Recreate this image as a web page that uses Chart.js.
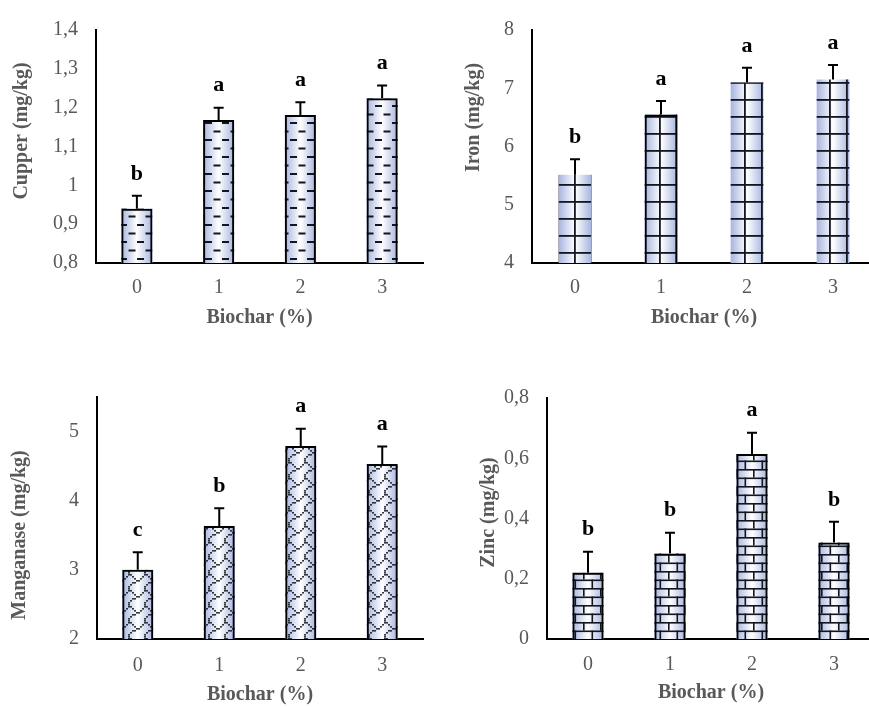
<!DOCTYPE html>
<html>
<head>
<meta charset="utf-8">
<script src="https://cdn.jsdelivr.net/npm/chart.js@4.4.1/dist/chart.umd.min.js"></script>
<style>
  html, body { margin: 0; padding: 0; background: #fff; width: 869px; height: 707px; overflow: hidden; }
  .panel { position: absolute; }
</style>
</head>
<body>
<canvas id="cu" class="panel" width="430" height="345" style="left:0;top:0"></canvas>
<canvas id="fe" class="panel" width="450" height="345" style="left:430px;top:0"></canvas>
<canvas id="mn" class="panel" width="430" height="357" style="left:0;top:350px"></canvas>
<canvas id="zn" class="panel" width="450" height="357" style="left:430px;top:350px"></canvas>
<script>
// Biochar application rates (%)
const doses = ['0', '1', '2', '3'];

// Copper
const copper = [0.94, 1.168, 1.181, 1.224];
const copperErr = [0.033, 0.032, 0.033, 0.033];
const copperGroups = ['b', 'a', 'a', 'a'];
const copperTicks = [0.8, 0.9, 1.0, 1.1, 1.2, 1.3, 1.4];

// Iron
const iron = [5.515, 6.55, 7.10, 7.15];
const ironErr = [0.265, 0.23, 0.25, 0.25];
const ironGroups = ['b', 'a', 'a', 'a'];
const ironTicks = [4, 5, 6, 7, 8];

// Manganese
const manganese = [3.00, 3.635, 4.79, 4.53];
const manganeseErr = [0.255, 0.255, 0.25, 0.255];
const manganeseGroups = ['c', 'b', 'a', 'a'];
const manganeseTicks = [2, 3, 4, 5];

// Zinc
const zinc = [0.220, 0.284, 0.614, 0.320];
const zincErr = [0.070, 0.069, 0.071, 0.069];
const zincGroups = ['b', 'b', 'a', 'b'];
const zincTicks = [0, 0.2, 0.4, 0.6, 0.8];

const SERIF = "'Liberation Serif', 'Times New Roman', serif";
const GREY = '#595959';
const INK = '#14161f';

// ---- fill patterns -------------------------------------------------------
function makeTile(w, h, draw, dx = 0, dy = 0) {
  const c = document.createElement('canvas');
  c.width = w; c.height = h;
  const g = c.getContext('2d');
  g.fillStyle = INK;
  draw(g);
  const pat = document.createElement('canvas').getContext('2d').createPattern(c, 'repeat');
  if (dx || dy) pat.setTransform(new DOMMatrix().translate(dx, dy));
  return pat;
}
const dashPattern = makeTile(17, 17, g => {
  g.fillRect(1, 3, 7, 2);
  g.fillRect(9.5, 11.5, 7, 2);
});
const gridPattern = makeTile(17, 17, g => {
  g.fillRect(0, 0, 17, 1.8);
  g.fillRect(0, 0, 1.8, 17);
}, 8, 14);
const brickPattern = makeTile(17, 17, g => {
  g.fillRect(0, 0, 17, 1.6);
  g.fillRect(0, 8.5, 17, 1.6);
  g.fillRect(0, 0, 1.6, 8.5);
  g.fillRect(8.5, 8.5, 1.6, 8.5);
});
const shingleBits = [0xc0, 0x21, 0x12, 0x0c, 0x30, 0x40, 0x80, 0x80];
const shinglePattern = makeTile(16, 16, g => {
  g.globalAlpha = 0.85;
  shingleBits.forEach((row, r) => {
    for (let b = 0; b < 8; b++) {
      if (row & (0x80 >> b)) g.fillRect(b * 2, r * 2, 2, 1.6);
    }
  });
});

// ---- bars, error bars and group letters ------------------------------------
function decor(p) {
  return {
    id: 'decor-' + p.id,
    beforeDatasetsDraw(chart) {
      const ctx = chart.ctx;
      chart.getDatasetMeta(0).data.forEach((bar, i) => {
        const { x, y, base, width } = bar.getProps(['x', 'y', 'base', 'width'], true);
        const l = x - width / 2;
        const g = ctx.createLinearGradient(l, 0, l + width, 0);
        g.addColorStop(0, '#a6b5df');
        g.addColorStop(0.5, '#ffffff');
        g.addColorStop(1, '#a6b5df');
        ctx.save();
        if (!p.outlined[i]) ctx.filter = 'blur(0.7px)';
        ctx.fillStyle = g;
        ctx.fillRect(l, y, width, base - y);
        ctx.fillStyle = p.pattern;
        ctx.fillRect(l, y, width, base - y);
        ctx.restore();
      });
    },
    afterDatasetsDraw(chart) {
      const ctx = chart.ctx;
      const ys = chart.scales.y;
      ctx.save();
      chart.getDatasetMeta(0).data.forEach((bar, i) => {
        const { x, y } = bar.getProps(['x', 'y'], true);
        const top = ys.getPixelForValue(p.values[i] + p.errors[i]);
        ctx.strokeStyle = '#000';
        ctx.lineWidth = 2;
        ctx.beginPath();
        ctx.moveTo(x, y);
        ctx.lineTo(x, top);
        ctx.moveTo(x - 5, top);
        ctx.lineTo(x + 5, top);
        ctx.stroke();
        ctx.fillStyle = '#000';
        ctx.font = 'bold 22px ' + SERIF;
        ctx.textAlign = 'center';
        ctx.textBaseline = 'middle';
        ctx.fillText(p.groups[i], x, top - 22);
      });
      ctx.restore();
    },
    afterDraw(chart) {
      const ctx = chart.ctx;
      ctx.save();
      ctx.translate(p.title.x, p.title.y);
      ctx.rotate(-Math.PI / 2);
      ctx.font = 'bold 20px ' + SERIF;
      ctx.fillStyle = GREY;
      ctx.textAlign = 'center';
      ctx.textBaseline = 'middle';
      ctx.fillText(p.title.text, 0, 0);
      ctx.restore();
    }
  };
}

const fmt = v => String(+Number(v).toFixed(2)).replace('.', ',');

function makeChart(p) {
  new Chart(document.getElementById(p.id), {
    type: 'bar',
    data: {
      labels: doses,
      datasets: [{
        data: p.values,
        base: p.min,
        backgroundColor: 'rgba(0,0,0,0)',
        borderColor: '#000',
        borderWidth: c => (p.outlined[c.dataIndex] ? 2 : 0),
        categoryPercentage: 1,
        barPercentage: 0.38
      }]
    },
    options: {
      responsive: false,
      animation: false,
      events: [],
      layout: { padding: { top: p.padTop, right: p.padRight, left: 0, bottom: 0 } },
      plugins: { legend: { display: false }, tooltip: { enabled: false } },
      scales: {
        x: {
          grid: { display: false, drawTicks: false },
          border: { display: true, color: '#000', width: 2 },
          ticks: { color: GREY, font: { family: SERIF, size: 20 }, padding: p.xTickPad },
          title: {
            display: true, text: 'Biochar (%)', color: GREY,
            font: { family: SERIF, size: 20, weight: 'bold' },
            padding: { top: 0, bottom: p.xTitlePad }
          },
          afterFit: s => { s.height = p.xHeight; }
        },
        y: {
          min: p.min, max: p.max, bounds: 'data',
          grid: { display: false, drawTicks: false },
          border: { display: true, color: '#000', width: 2 },
          ticks: { color: GREY, font: { family: SERIF, size: 20 }, padding: 18, callback: v => fmt(v) },
          afterBuildTicks: s => { s.ticks = p.ticks.map(v => ({ value: v })); },
          afterFit: s => { s.width = p.yWidth; }
        }
      }
    },
    plugins: [decor(p)]
  });
}

makeChart({
  id: 'cu', values: copper, errors: copperErr, groups: copperGroups, ticks: copperTicks,
  min: 0.8, max: 1.4, pattern: dashPattern, outlined: [true, true, true, true],
  padTop: 22, padRight: 7, yWidth: 96, xHeight: 82, xTickPad: 13, xTitlePad: 15,
  title: { text: 'Cupper (mg/kg)', x: 22, y: 131 }
});
makeChart({
  id: 'fe', values: iron, errors: ironErr, groups: ironGroups, ticks: ironTicks,
  min: 4, max: 8, pattern: gridPattern, outlined: [false, true, false, false],
  padTop: 22, padRight: 4, yWidth: 102, xHeight: 82, xTickPad: 13, xTitlePad: 15,
  title: { text: 'Iron (mg/kg)', x: 44, y: 117.5 }
});
makeChart({
  id: 'mn', values: manganese, errors: manganeseErr, groups: manganeseGroups, ticks: manganeseTicks,
  min: 2, max: 5.5, pattern: shinglePattern, outlined: [true, true, true, true],
  padTop: 47, padRight: 7, yWidth: 97, xHeight: 68, xTickPad: 15, xTitlePad: 0,
  title: { text: 'Manganase (mg/kg)', x: 20, y: 185 }
});
makeChart({
  id: 'zn', values: zinc, errors: zincErr, groups: zincGroups, ticks: zincTicks,
  min: 0, max: 0.8, pattern: brickPattern, outlined: [true, true, true, true],
  padTop: 48, padRight: 5, yWidth: 117, xHeight: 68, xTickPad: 14, xTitlePad: 2,
  title: { text: 'Zinc (mg/kg)', x: 59, y: 162.5 }
});
</script>
</body>
</html>
